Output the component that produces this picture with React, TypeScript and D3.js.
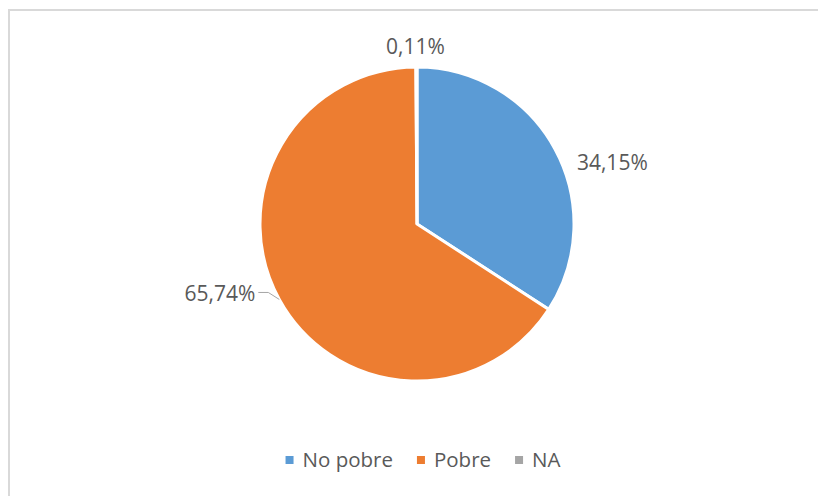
import { useEffect, useRef } from 'react';
import * as d3 from 'd3';

const categories = ['No pobre', 'Pobre', 'NA'];
const values = [34.15, 65.74, 0.11];
const labels = ['34,15%', '65,74%', '0,11%'];
const colors = ['#5B9BD5', '#ED7D31', '#A5A5A5'];

const App = () => {
  const ref = useRef<SVGSVGElement | null>(null);

  useEffect(() => {
    const width = 818;
    const height = 496;
    const cx = 417;
    const cy = 224;
    const r = 157;
    const font = '"Open Sans", "Liberation Sans", sans-serif';
    const textColor = '#595959';

    const svg = d3.select(ref.current);
    svg.selectAll('*').remove();
    svg.attr('width', width).attr('height', height);

    // chart frame
    svg
      .append('rect')
      .attr('x', 9)
      .attr('y', 10)
      .attr('width', 900)
      .attr('height', 600)
      .attr('fill', '#fff')
      .attr('stroke', '#d9d9d9')
      .attr('stroke-width', 2);

    const data = categories.map((c, i) => ({ name: c, value: values[i], label: labels[i], color: colors[i] }));

    const pie = d3
      .pie<any>()
      .sort(null)
      .value(d => d.value);
    const arcs = pie(data);

    const arc = d3.arc<any>().innerRadius(0).outerRadius(r);

    const g = svg.append('g').attr('transform', `translate(${cx},${cy})`);

    g.selectAll('path')
      .data(arcs)
      .enter()
      .append('path')
      .attr('d', arc)
      .attr('fill', d => d.data.color)
      .attr('stroke', '#fff')
      .attr('stroke-width', 3)
      .attr('stroke-linejoin', 'miter');

    // label placement (offsets from the slice's outer edge, excel "best fit" look)
    const nudge = [
      { dx: 22, dy: 14, anchor: 'start', leader: false },
      { dx: -24, dy: -6, anchor: 'end', leader: true },
      { dx: -1, dy: -20, anchor: 'middle', leader: false },
    ];

    arcs.forEach((a, i) => {
      const mid = (a.startAngle + a.endAngle) / 2;
      const px = Math.sin(mid) * r;
      const py = -Math.cos(mid) * r;
      const n = nudge[i];
      const lx = px + n.dx;
      const ly = py + n.dy;
      if (n.leader) {
        g.append('path')
          .attr('d', `M${px},${py}L${px - 11},${ly - 1}L${lx + 3},${ly - 1}`)
          .attr('fill', 'none')
          .attr('stroke', '#a6a6a6')
          .attr('stroke-width', 1);
      }
      g.append('text')
        .attr('x', lx)
        .attr('y', ly)
        .attr('dy', '0.35em')
        .attr('text-anchor', n.anchor)
        .attr('font-family', font)
        .attr('font-size', 21)
        .attr('fill', textColor)
        .text(a.data.label);
    });

    // legend
    const legend = svg.append('g');
    const items = legend
      .selectAll('g')
      .data(data)
      .enter()
      .append('g');
    items
      .append('rect')
      .attr('width', 8)
      .attr('height', 8)
      .attr('y', -11)
      .attr('fill', d => d.color);
    const texts = items
      .append('text')
      .attr('x', 17)
      .attr('font-family', font)
      .attr('font-size', 20.5)
      .attr('fill', textColor)
      .text(d => d.name);

    let x = 0;
    texts.each(function (d, i) {
      const w = (this as SVGTextElement).getComputedTextLength();
      d3.select(items.nodes()[i]).attr('transform', `translate(${x},0)`);
      x += 17 + w + 24;
    });
    const total = x - 24;
    legend.attr('transform', `translate(${423 - total / 2},467)`);
  }, []);

  return <svg ref={ref} style={{ position: 'absolute', left: 0, top: 0 }} />;
};

export default App;
